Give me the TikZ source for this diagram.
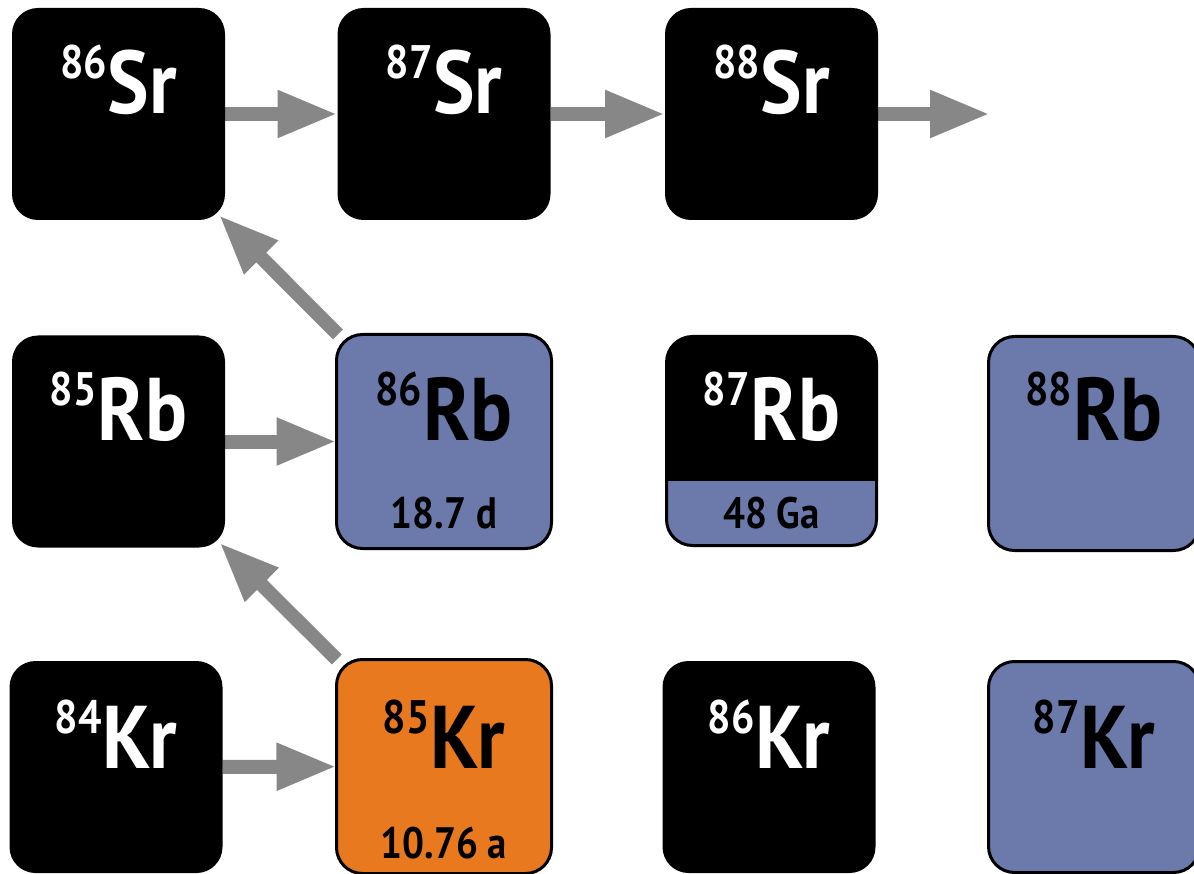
\documentclass[tikz,border=0pt]{standalone}
\usepackage{fontspec}
\setmainfont{PT Sans}[FakeStretch=0.88]
\usetikzlibrary{arrows.meta,backgrounds}
\definecolor{rbblue}{HTML}{6B7AAB}
\definecolor{krorange}{HTML}{E8791E}
\definecolor{arrgray}{HTML}{878787}
\tikzset{
 box/.style={rectangle, rounded corners=26pt, minimum width=213pt, minimum height=212pt, inner sep=0pt, outer sep=0pt},
 stable/.style={box, fill=black},
 unstable/.style={box, draw=black, line width=3pt, minimum width=210pt, minimum height=209pt},
 arr/.style={draw=arrgray, line width=14pt, -{Triangle[length=60pt,width=44pt]}},
 sym/.style={anchor=base, inner sep=0pt, font=\bfseries},
 half/.style={anchor=base, inner sep=0pt, font=\bfseries\fontsize{44}{44}\selectfont},
}
\newcommand\isot[2]{{\fontsize{47}{47}\selectfont\raisebox{35pt}{#1}}\kern1pt{\fontsize{89}{89}\selectfont #2}}
\begin{document}
\begin{tikzpicture}[x=1pt,y=-1pt]
\useasboundingbox (0,0) rectangle (1194,874);
% boxes
\node[stable] (sr86) at (118.5,114) {};
\node[stable] (sr87) at (444,114) {};
\node[stable] (sr88) at (771.5,114) {};
\node[stable] (rb85) at (118.5,441.5) {};
\node[unstable, fill=rbblue, minimum width=215pt, minimum height=214pt] (rb86) at (444,441.5) {};
\node[unstable, fill=rbblue, path picture={\fill[black, sharp corners] (path picture bounding box.north west) rectangle ([yshift=65pt]path picture bounding box.south east);}] (rb87) at (771.5,441) {};
\node[unstable, fill=rbblue, minimum width=211pt, minimum height=214pt] (rb88) at (1094,443.5) {};
\node[stable] (kr84) at (116,767) {};
\node[unstable, fill=krorange, minimum width=215pt, minimum height=214pt] (kr85) at (444,766.5) {};
\node[stable] (kr86) at (769,767) {};
\node[unstable, fill=rbblue, minimum width=211pt, minimum height=211pt] (kr87) at (1094,767) {};
\coordinate (srend) at (990,114);
% labels
\node[sym, white] (tsr86) at (118.5,114) {\isot{86}{Sr}};
\node[sym, white] (tsr87) at (444,114) {\isot{87}{Sr}};
\node[sym, white] (tsr88) at (771.5,114) {\isot{88}{Sr}};
\node[sym, white] (trb85) at (118.5,440) {\isot{85}{Rb}};
\node[sym, black] (trb86) at (444,440) {\isot{86}{Rb}};
\node[half, black] (hrb86) at (444,528) {18.7 d};
\node[sym, white] (trb87) at (771.5,440) {\isot{87}{Rb}};
\node[half, black] (hrb87) at (771.5,528) {48 Ga};
\node[sym, black] (trb88) at (1094,440) {\isot{88}{Rb}};
\node[sym, white] (tkr84) at (116,768) {\isot{84}{Kr}};
\node[sym, black] (tkr85) at (444,768) {\isot{85}{Kr}};
\node[half, black] (hkr85) at (444,858) {10.76 a};
\node[sym, white] (tkr86) at (769,768) {\isot{86}{Kr}};
\node[sym, black] (tkr87) at (1094,768) {\isot{87}{Kr}};
% arrows
\begin{scope}[on background layer]
\draw[arr] (sr86) -- (sr87);
\draw[arr] (sr87) -- (sr88);
\draw[arr] (sr88) -- (srend);
\draw[arr] (rb85) -- (rb86);
\draw[arr] (kr84) -- (kr85);
\draw[arr, shorten >=-7pt] (rb86) -- (sr86);
\draw[arr, shorten >=-7pt] (kr85) -- (rb85);
\end{scope}
\end{tikzpicture}
\end{document}
